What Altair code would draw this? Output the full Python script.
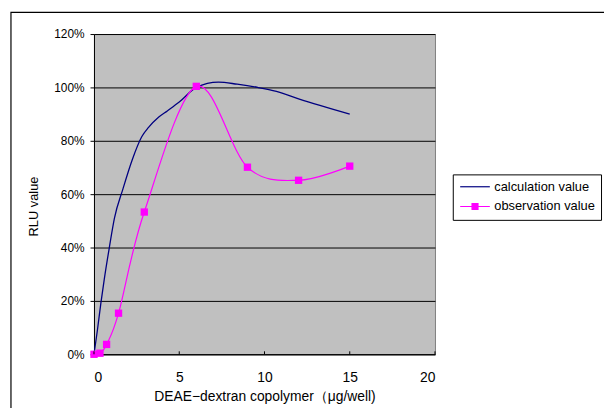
import altair as alt
import pandas as pd

# --- data ---
calc_x = [0, 0.2, 0.4, 0.6, 0.9, 1.2, 1.7, 2.25, 2.8, 3.2, 3.8, 4.3, 5.0, 6.0, 7.3, 8.4, 9.6, 10.7, 12.0, 15.0]
calc_y = [0, 9, 19, 28, 40, 51, 62, 73, 81.5, 85, 88.9, 91.2, 94.5, 100, 102, 101.2, 100, 98.5, 95.7, 90]
obs_x = [0, 0.35, 0.74, 1.44, 2.95, 6, 9, 12, 15]
obs_y = [0, 0.4, 3.7, 15.4, 53.3, 100.4, 70.1, 65.2, 70.5]
series_names = ["calculation value", "observation value"]
series_colors = ["#000080", "#FF00FF"]
x_ticks = [0, 5, 10, 15, 20]
y_ticks = [0, 0.2, 0.4, 0.6, 0.8, 1.0, 1.2]

calc_df = pd.DataFrame({"x": calc_x, "y": [v / 100 for v in calc_y], "series": series_names[0]})
obs_df = pd.DataFrame({"x": obs_x, "y": [v / 100 for v in obs_y], "series": series_names[1]})
tick_df = pd.DataFrame({"x": x_ticks})
frame_df = pd.DataFrame({"a": [0]})

W, H = 345, 324
FONT = "Liberation Sans"

xscale = alt.Scale(domain=[0, 20], nice=False, zero=False)
yscale = alt.Scale(domain=[0, 1.2], nice=False)

x_enc = alt.X(
    "x:Q", scale=xscale,
    axis=alt.Axis(values=x_ticks, title="DEAE−dextran copolymer（μg/well)",
                  grid=False, ticks=False, labelPadding=17, labelFontSize=14,
                  titleY=43, titleBaseline="middle", titleFontSize=14,
                  titleFontWeight="normal", domainColor="#000000",
                  labelColor="#000000", titleColor="#000000",
                  labelFont=FONT, titleFont=FONT),
)
y_enc = alt.Y(
    "y:Q", scale=yscale,
    axis=alt.Axis(values=y_ticks, format=".0%", title="RLU value",
                  grid=True, gridColor="#000000", gridWidth=1, tickSize=4,
                  tickColor="#000000", domainColor="#000000",
                  labelPadding=6, labelFontSize=12, titleX=-61, titleY=174,
                  titleAlign="center", titleBaseline="middle", titleFontSize=13,
                  titleFontWeight="normal", labelColor="#000000",
                  titleColor="#000000", labelFont=FONT, titleFont=FONT),
)

color_enc = alt.Color(
    "series:N",
    scale=alt.Scale(domain=series_names, range=series_colors),
    legend=alt.Legend(
        title=None, orient="none", legendX=363, legendY=142,
        strokeColor="#000000", padding=6, rowPadding=6,
        labelFontSize=13, labelOffset=23, labelColor="#000000", labelFont=FONT,
        symbolSize=100, symbolStrokeWidth=1.2, symbolFillColor="#FF00FF",
        symbolType={"expr": "datum.value === 'observation value' ? 'M-1,0H5M1.4,-0.6H2.6V0.6H1.4Z' : 'M-1,0H5'"},
    ),
)

calc_line = alt.Chart(calc_df).mark_line(interpolate="monotone", strokeWidth=1.3).encode(
    x=x_enc, y=y_enc, color=color_enc
)
obs_line = alt.Chart(obs_df).mark_line(interpolate="cardinal", strokeWidth=1.2).encode(
    x=x_enc, y=y_enc, color=color_enc
)
obs_pts = alt.Chart(obs_df).mark_point(shape="square", filled=True, size=55, opacity=1).encode(
    x=x_enc, y=y_enc,
    color=alt.Color("series:N", scale=alt.Scale(domain=series_names, range=series_colors), legend=None),
)
xticks = alt.Chart(tick_df).mark_rule(color="#000000", strokeWidth=1).encode(
    x=alt.X("x:Q", scale=xscale), y=alt.value(H - 3), y2=alt.value(H)
)
frame = alt.Chart(frame_df).mark_rect(filled=False, stroke="#000000", strokeWidth=1.2).encode(
    x=alt.value(-84), y=alt.value(-22), x2=alt.value(700), y2=alt.value(600)
)

chart = alt.layer(frame, calc_line, obs_line, obs_pts, xticks).properties(
    width=W, height=H,
    background="#FFFFFF",
    autosize=alt.AutoSizeParams(type="none"),
    padding={"left": 87, "top": 24, "right": 171, "bottom": 52},
).configure_view(
    fill="#C0C0C0", stroke="#808080", strokeWidth=1
)

chart.save("out.html", embed_options={"renderer": "svg", "actions": False})
